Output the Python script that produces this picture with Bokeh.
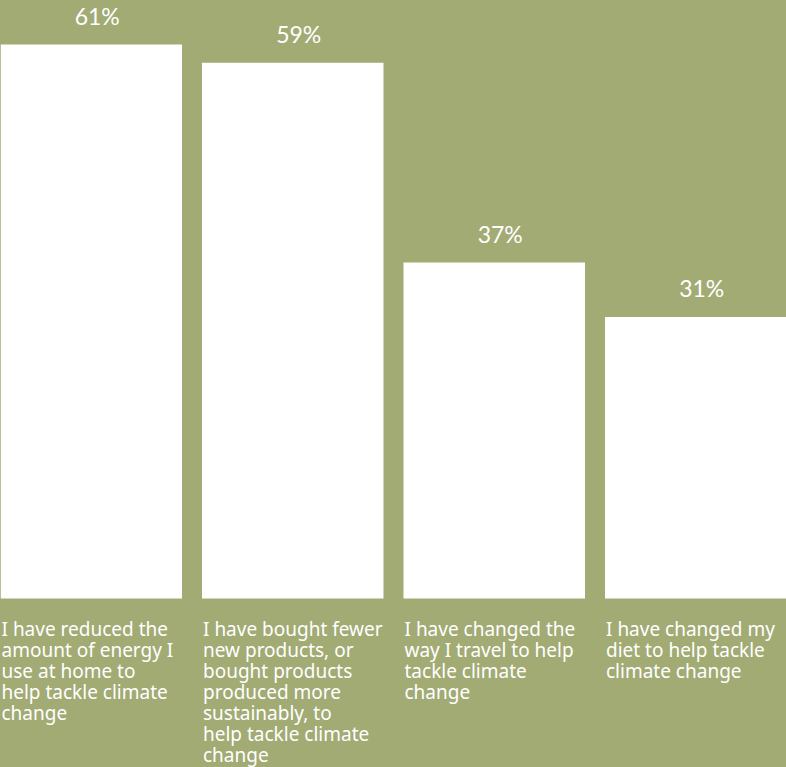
from bokeh.plotting import figure
from bokeh.models import ColumnDataSource, Range1d
from bokeh.core.properties import value
from bokeh.embed import file_html
from bokeh.resources import INLINE

categories = [
    "I have reduced the\namount of energy I\nuse at home to\nhelp tackle climate\nchange",
    "I have bought fewer\nnew products, or\nbought products\nproduced more\nsustainably, to\nhelp tackle climate\nchange",
    "I have changed the\nway I travel to help\ntackle climate\nchange",
    "I have changed my\ndiet to help tackle\nclimate change",
]
values = [61, 59, 37, 31]
value_labels = [f"{v}%" for v in values]

BG = "#a2ab74"
W, H = 786, 767
bar_w = 0.9007
x = list(range(len(values)))
left = [i - bar_w / 2 for i in x]

src = ColumnDataSource(dict(x=x, left=left, top=values, cat=categories, lab=value_labels,
                            zero=[0] * len(values)))

p = figure(width=W, height=H, output_backend="svg", toolbar_location=None,
           x_range=Range1d(-bar_w / 2, -bar_w / 2 + W / 201.5),
           y_range=Range1d(-(H - 598) / 9.08, 598 / 9.08),
           min_border=0, border_fill_color=BG, background_fill_color=BG)
p.styles = {"background-color": BG}
p.axis.visible = False
p.grid.visible = False
p.outline_line_color = None

p.vbar(x="x", top="top", bottom=0, width=bar_w, source=src, fill_color="white", line_color=None)

p.text(x="x", y="top", text="lab", source=src, text_align="center", text_baseline="bottom",
       x_offset=6, y_offset=-15, text_color="white", text_font=value("Lato"),
       text_font_size="23px")

p.text(x="left", y="zero", text="cat", source=src, text_align="left", text_baseline="top",
       x_offset=1, y_offset=17, text_color="white", text_font=value("Noto Sans"),
       text_font_size="19px", text_line_height=0.81)

open("out.html", "w").write(file_html(p, INLINE))
